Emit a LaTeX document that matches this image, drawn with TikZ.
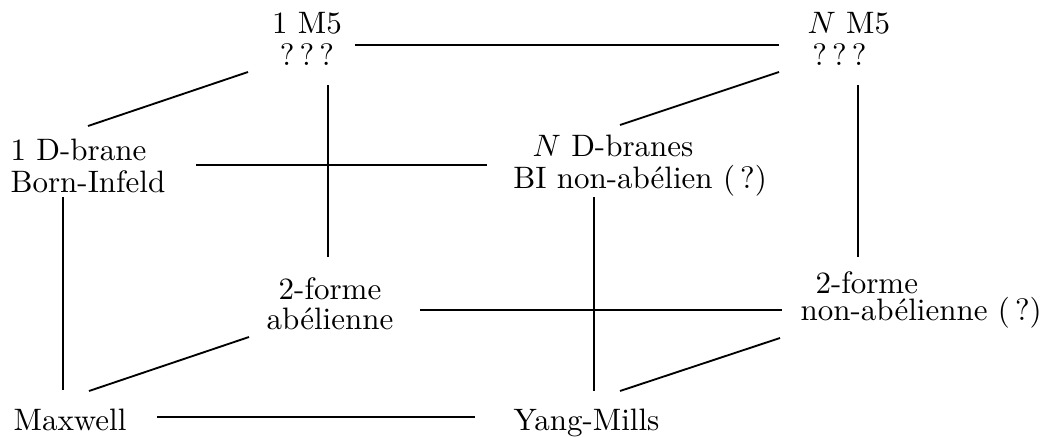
\documentclass[tikz,border=0pt]{standalone}
\usepackage{tikz}
\tikzstyle{txt} = [inner sep=0pt, font=\fontsize{10pt}{10.3pt}\selectfont]
\tikzstyle{txtc} = [txt, align=center]
\tikzstyle{txtl} = [txt, align=left]

\begin{document}
\begin{tikzpicture}[x=0.3226pt, y=-0.3226pt]
    \tikzset{edge/.style={line width=0.6pt, line cap=butt}}
    \useasboundingbox (0,0) rectangle (1046,437);

    % back face
    \node (one_m5) [txtc] at (307,39) {1 M5\\?\,?\,?};
    \node (n_m5) [txtl, anchor=west] at (807,39) {$N$ M5\\\hspace*{1.5pt}?\,?\,?};
    \node (two_form_ab) [txtc, font=\fontsize{10pt}{9.7pt}\selectfont] at (330,304) {2-forme\\abélienne};
    \node (two_form_nab) [txtl, font=\fontsize{10pt}{8.7pt}\selectfont, anchor=west] at (800,300) {\hspace*{4.8pt}2-forme\\non-abélienne (\,?)};

    % front face
    \node (one_dbrane) [txtl, anchor=west] at (10,165.5) {1 D-brane\\Born-Infeld};
    \node (n_dbranes) [txtc] at (613,165.5) {$N$ D-branes\\BI non-abélien\rlap{ (\,?)}};
    \node (maxwell) [txt, anchor=base west] at (13,430) {Maxwell};
    \node (yang_mills) [txt, anchor=base west] at (513,430) {Yang-Mills};

    \draw[edge] ([shift={(48,6)}]one_m5.center) -- ([shift={(-28,6)}]n_m5.west);
    \draw[edge] ([shift={(-59,33)}]one_m5.center) -- ([shift={(78,-39.5)}]one_dbrane.west);
    \draw[edge] ([shift={(21,46)}]one_m5.center) -- ([shift={(-2,-47)}]two_form_ab.center);
    \draw[edge] ([shift={(-28,33)}]n_m5.west) -- ([shift={(7,-40.5)}]n_dbranes.center);
    \draw[edge] ([shift={(51,46)}]n_m5.west) -- ([shift={(58,-43)}]two_form_nab.west);

    \draw[edge] ([shift={(186,-0.5)}]one_dbrane.west) -- ([shift={(-126,-0.5)}]n_dbranes.center);
    \draw[edge] ([shift={(53,31.5)}]one_dbrane.west) -- ([shift={(50,-40)}]maxwell.base west);
    \draw[edge] ([shift={(-19,31.5)}]n_dbranes.center) -- ([shift={(81,-39)}]yang_mills.base west);

    \draw[edge] ([shift={(90,6)}]two_form_ab.center) -- ([shift={(-18,10)}]two_form_nab.west);
    \draw[edge] ([shift={(-81,33)}]two_form_ab.center) -- ([shift={(76,-39)}]maxwell.base west);
    \draw[edge] ([shift={(-20,38)}]two_form_nab.west) -- ([shift={(107,-39)}]yang_mills.base west);

    \draw[edge] ([shift={(144,-13)}]maxwell.base west) -- ([shift={(-38,-13)}]yang_mills.base west);
\end{tikzpicture}
\end{document}
